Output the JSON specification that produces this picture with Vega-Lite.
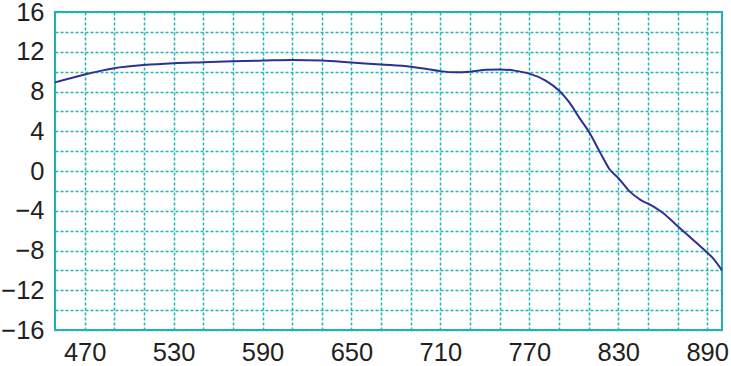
{
  "$schema": "https://vega.github.io/schema/vega-lite/v6.json",
  "width": 667,
  "height": 318,
  "autosize": {"type": "none"},
  "padding": {"left": 55, "top": 12, "right": 9, "bottom": 36},
  "background": "white",
  "config": {
    "view": {"stroke": "#1fb0b0", "strokeWidth": 2},
    "axis": {
      "grid": true,
      "gridColor": "#22b5b5",
      "gridDash": [3, 2],
      "gridWidth": 1.5,
      "gridOpacity": 1,
      "domain": false,
      "ticks": false,
      "labelFont": "Liberation Sans",
      "labelFontSize": 25.5,
      "labelColor": "#231f20",
      "title": null
    }
  },
  "data": {
    "values": [
      {"x": 450, "y": 8.92},
      {"x": 470, "y": 9.72},
      {"x": 490, "y": 10.35},
      {"x": 510, "y": 10.66},
      {"x": 530, "y": 10.84},
      {"x": 550, "y": 10.94},
      {"x": 570, "y": 11.04},
      {"x": 590, "y": 11.11},
      {"x": 610, "y": 11.18},
      {"x": 630, "y": 11.13},
      {"x": 650, "y": 10.92},
      {"x": 670, "y": 10.72},
      {"x": 690, "y": 10.5},
      {"x": 700, "y": 10.3},
      {"x": 710, "y": 10.05},
      {"x": 721, "y": 9.93},
      {"x": 730, "y": 10.0},
      {"x": 741, "y": 10.18},
      {"x": 750, "y": 10.22},
      {"x": 760, "y": 10.1},
      {"x": 770, "y": 9.8},
      {"x": 781, "y": 9.1},
      {"x": 790, "y": 8.1},
      {"x": 797, "y": 6.9},
      {"x": 804, "y": 5.3},
      {"x": 810, "y": 4.0},
      {"x": 818, "y": 1.8},
      {"x": 824, "y": 0.2},
      {"x": 830, "y": -0.7},
      {"x": 838, "y": -2.1},
      {"x": 845, "y": -2.9},
      {"x": 853, "y": -3.5},
      {"x": 860, "y": -4.2},
      {"x": 869, "y": -5.4},
      {"x": 878, "y": -6.6},
      {"x": 887, "y": -7.8},
      {"x": 894, "y": -8.8},
      {"x": 900, "y": -10.0}
    ]
  },
  "mark": {"type": "line", "color": "#2e3192", "strokeWidth": 2, "interpolate": "monotone"},
  "encoding": {
    "x": {
      "field": "x",
      "type": "quantitative",
      "scale": {"domain": [450, 900], "nice": false, "zero": false},
      "axis": {
        "values": [470, 490, 510, 530, 550, 570, 590, 610, 630, 650, 670, 690, 710, 730, 750, 770, 790, 810, 830, 850, 870, 890],
        "labelExpr": "(datum.value - 470) % 60 == 0 ? datum.label : ''",
        "labelPadding": 10,
        "labelFlush": false,
        "labelOverlap": false
      }
    },
    "y": {
      "field": "y",
      "type": "quantitative",
      "scale": {"domain": [-16, 16], "nice": false, "zero": false},
      "axis": {
        "values": [-16, -14, -12, -10, -8, -6, -4, -2, 0, 2, 4, 6, 8, 10, 12, 14, 16],
        "labelExpr": "datum.value % 4 == 0 ? datum.label : ''",
        "labelPadding": 11,
        "labelOverlap": false,
        "labelFlush": false
      }
    }
  }
}
